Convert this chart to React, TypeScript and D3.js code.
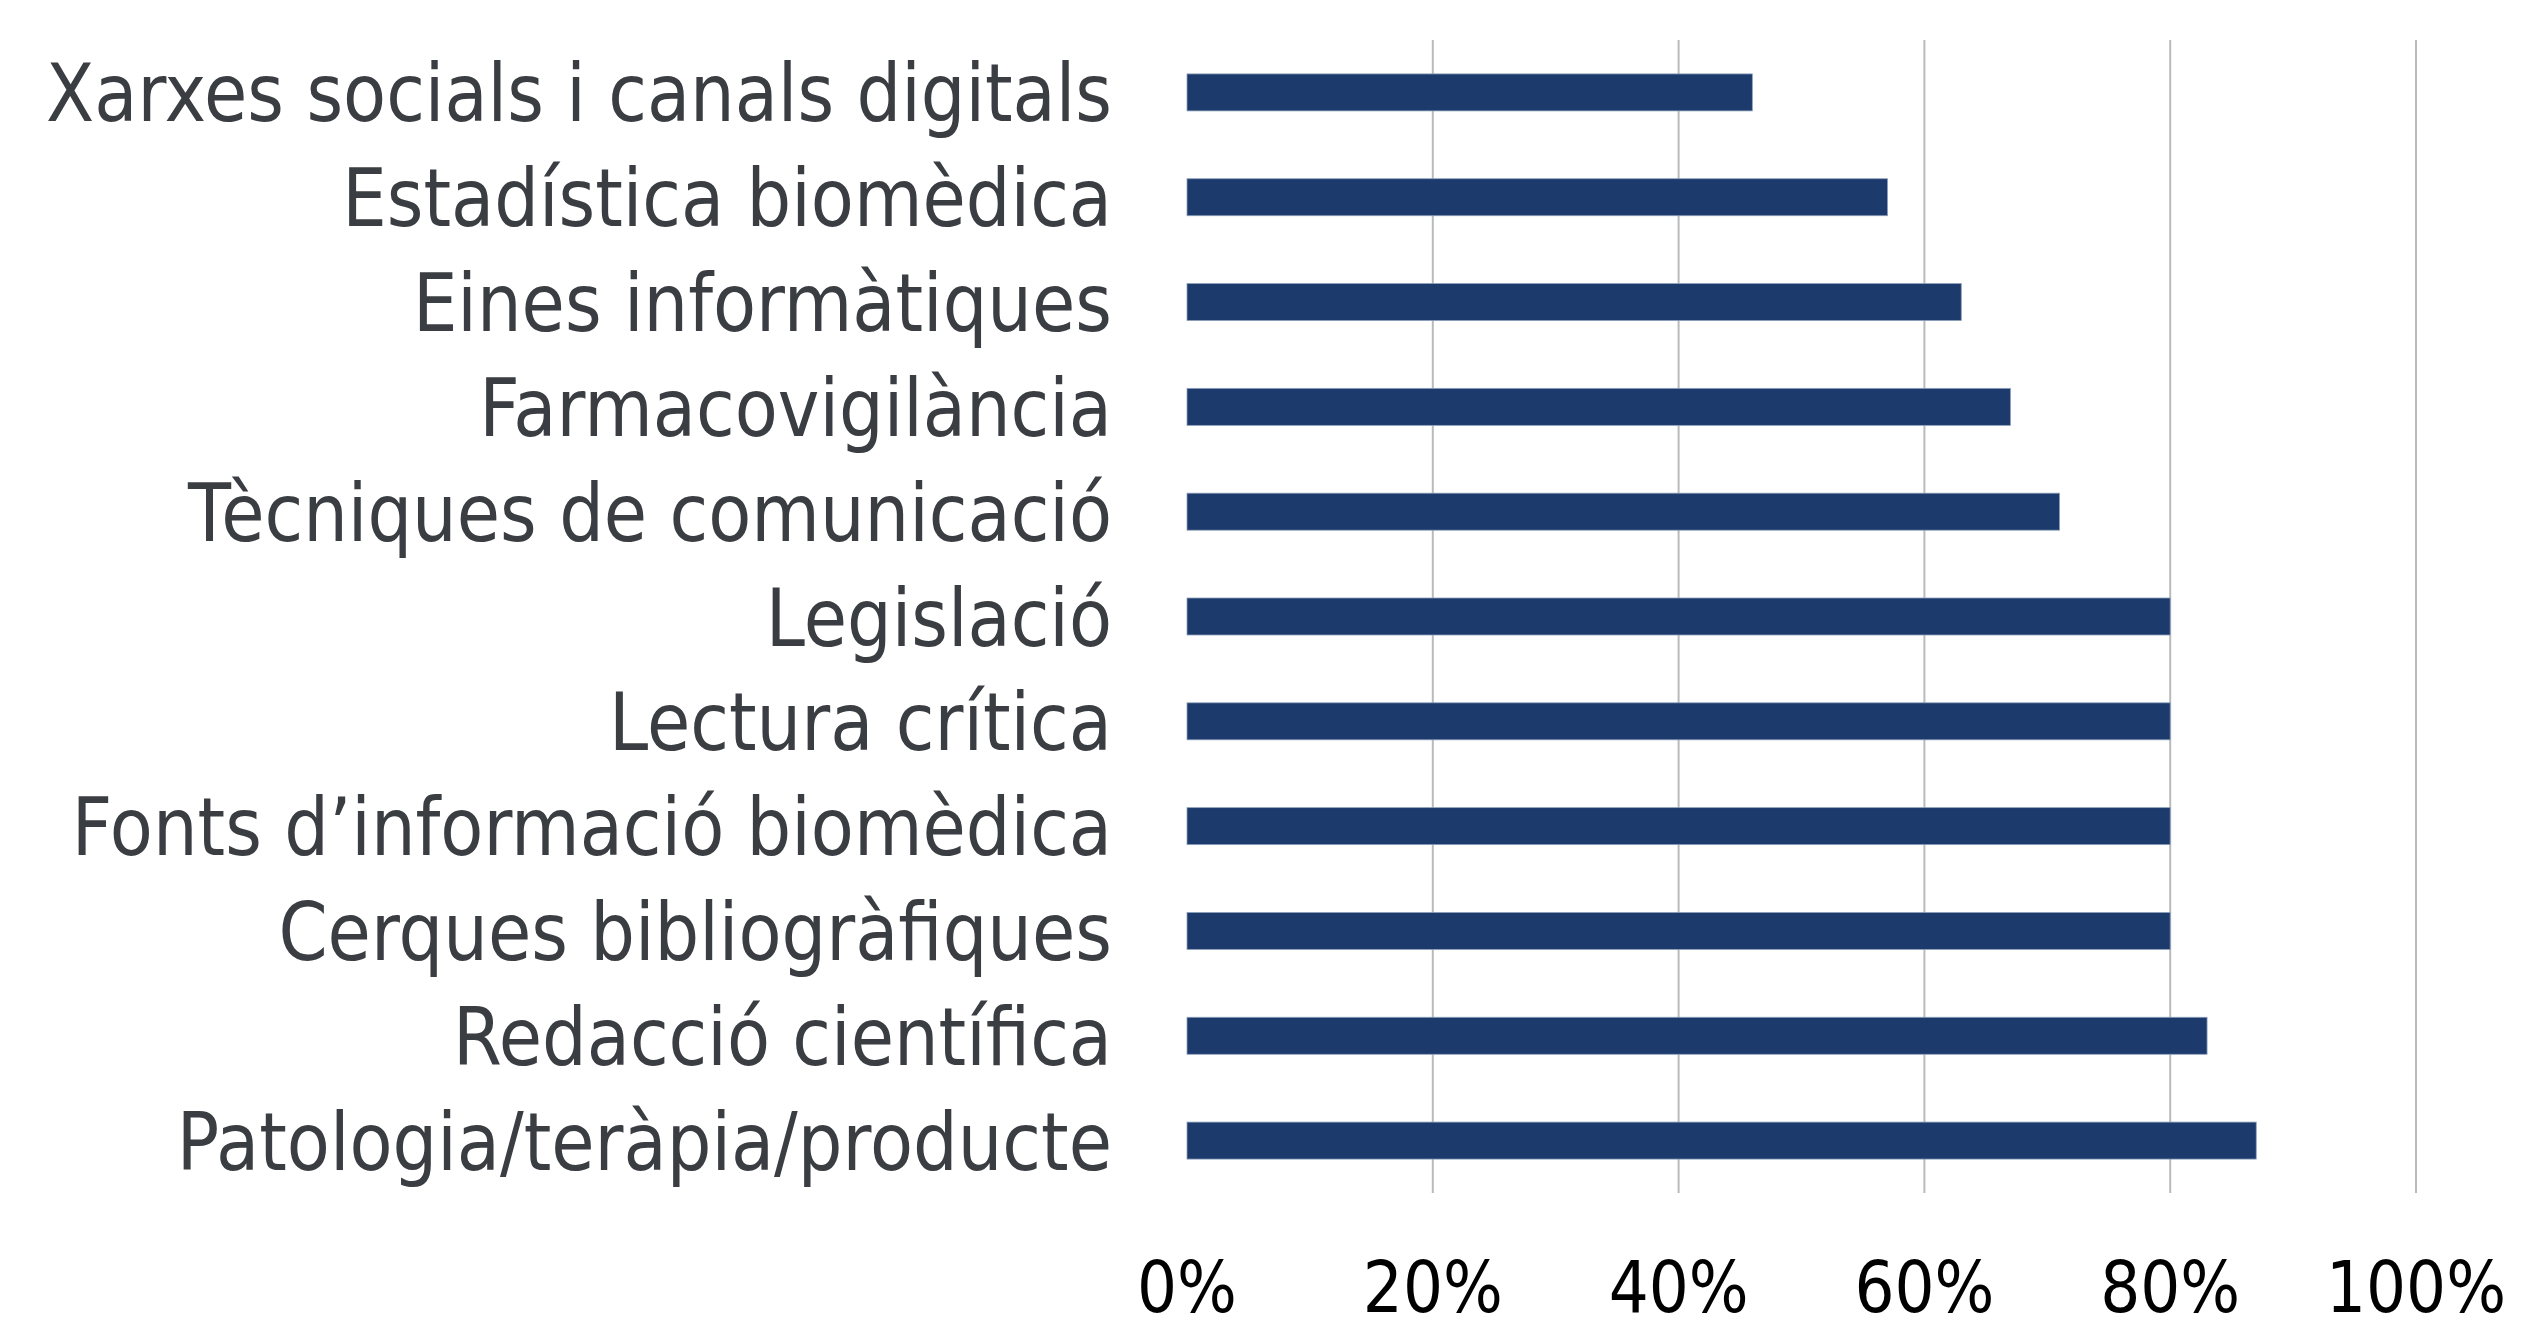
import React, { useEffect, useRef } from "react";
import * as d3 from "d3";

const categories = [
  "Xarxes socials i canals digitals",
  "Estadística biomèdica",
  "Eines informàtiques",
  "Farmacovigilància",
  "Tècniques de comunicació",
  "Legislació",
  "Lectura crítica",
  "Fonts d’informació biomèdica",
  "Cerques bibliogràfiques",
  "Redacció científica",
  "Patologia/teràpia/producte",
];
const values = [0.46, 0.57, 0.63, 0.67, 0.71, 0.8, 0.8, 0.8, 0.8, 0.83, 0.87];
const tickValues = [0, 0.2, 0.4, 0.6, 0.8, 1.0];

const W = 2539;
const H = 1337;

export default function App() {
  const ref = useRef<SVGSVGElement>(null);

  useEffect(() => {
    const svg = d3.select(ref.current);
    svg.selectAll("*").remove();

    const x = d3.scaleLinear().domain([0, 1]).range([1187, 2416]);
    const y = d3.scaleBand<string>().domain(categories).range([40, 1193]).paddingInner(0.647).paddingOuter(0.3235);

    // gridlines
    svg
      .append("g")
      .selectAll("line")
      .data(tickValues.filter((t) => t > 0))
      .join("line")
      .attr("x1", (d) => x(d))
      .attr("x2", (d) => x(d))
      .attr("y1", 40)
      .attr("y2", 1193)
      .attr("stroke", "#b8bbbd")
      .attr("stroke-width", 2);

    // bars
    svg
      .append("g")
      .selectAll("rect")
      .data(categories)
      .join("rect")
      .attr("x", x(0))
      .attr("y", (d) => y(d)!)
      .attr("width", (d, i) => x(values[i]) - x(0))
      .attr("height", y.bandwidth())
      .attr("fill", "#1c3a6c")
      .attr("stroke", "#8ea0bb")
      .attr("stroke-width", 0.8);

    // category labels
    const labelG = svg.append("g");
    const labels = labelG
      .selectAll("text")
      .data(categories)
      .join("text")
      .attr("text-anchor", "end")
      .attr("font-family", "DejaVu Sans")
      .attr("font-size", 80)
      .attr("fill", "#3a3d41")
      .text((d) => d);
    let maxW = 0;
    labels.each(function () {
      const w = (this as SVGTextElement).getComputedTextLength();
      if (w > maxW) maxW = w;
    });
    const sx = maxW > 0 ? 1066 / maxW : 0.78;
    labels.attr(
      "transform",
      (d) => `translate(1112,${y(d)! + y.bandwidth() / 2 + 29}) scale(${sx},1)`
    );

    // tick labels
    const ticks = svg
      .append("g")
      .selectAll("text")
      .data(tickValues)
      .join("text")
      .attr("text-anchor", "middle")
      .attr("font-family", "DejaVu Sans")
      .attr("font-size", 71)
      .attr("fill", "#000000")
      .text((d) => d3.format(".0%")(d));
    let tw = 0;
    ticks.each(function (d) {
      if (d === 1) tw = (this as SVGTextElement).getComputedTextLength();
    });
    const tsx = tw > 0 ? 180 / tw : 0.78;
    ticks.attr("transform", (d) => `translate(${x(d)},1312) scale(${tsx},1)`);
  }, []);

  return (
    <svg
      ref={ref}
      width={W}
      height={H}
      style={{ position: "absolute", left: 0, top: 0, background: "#ffffff" }}
    />
  );
}
